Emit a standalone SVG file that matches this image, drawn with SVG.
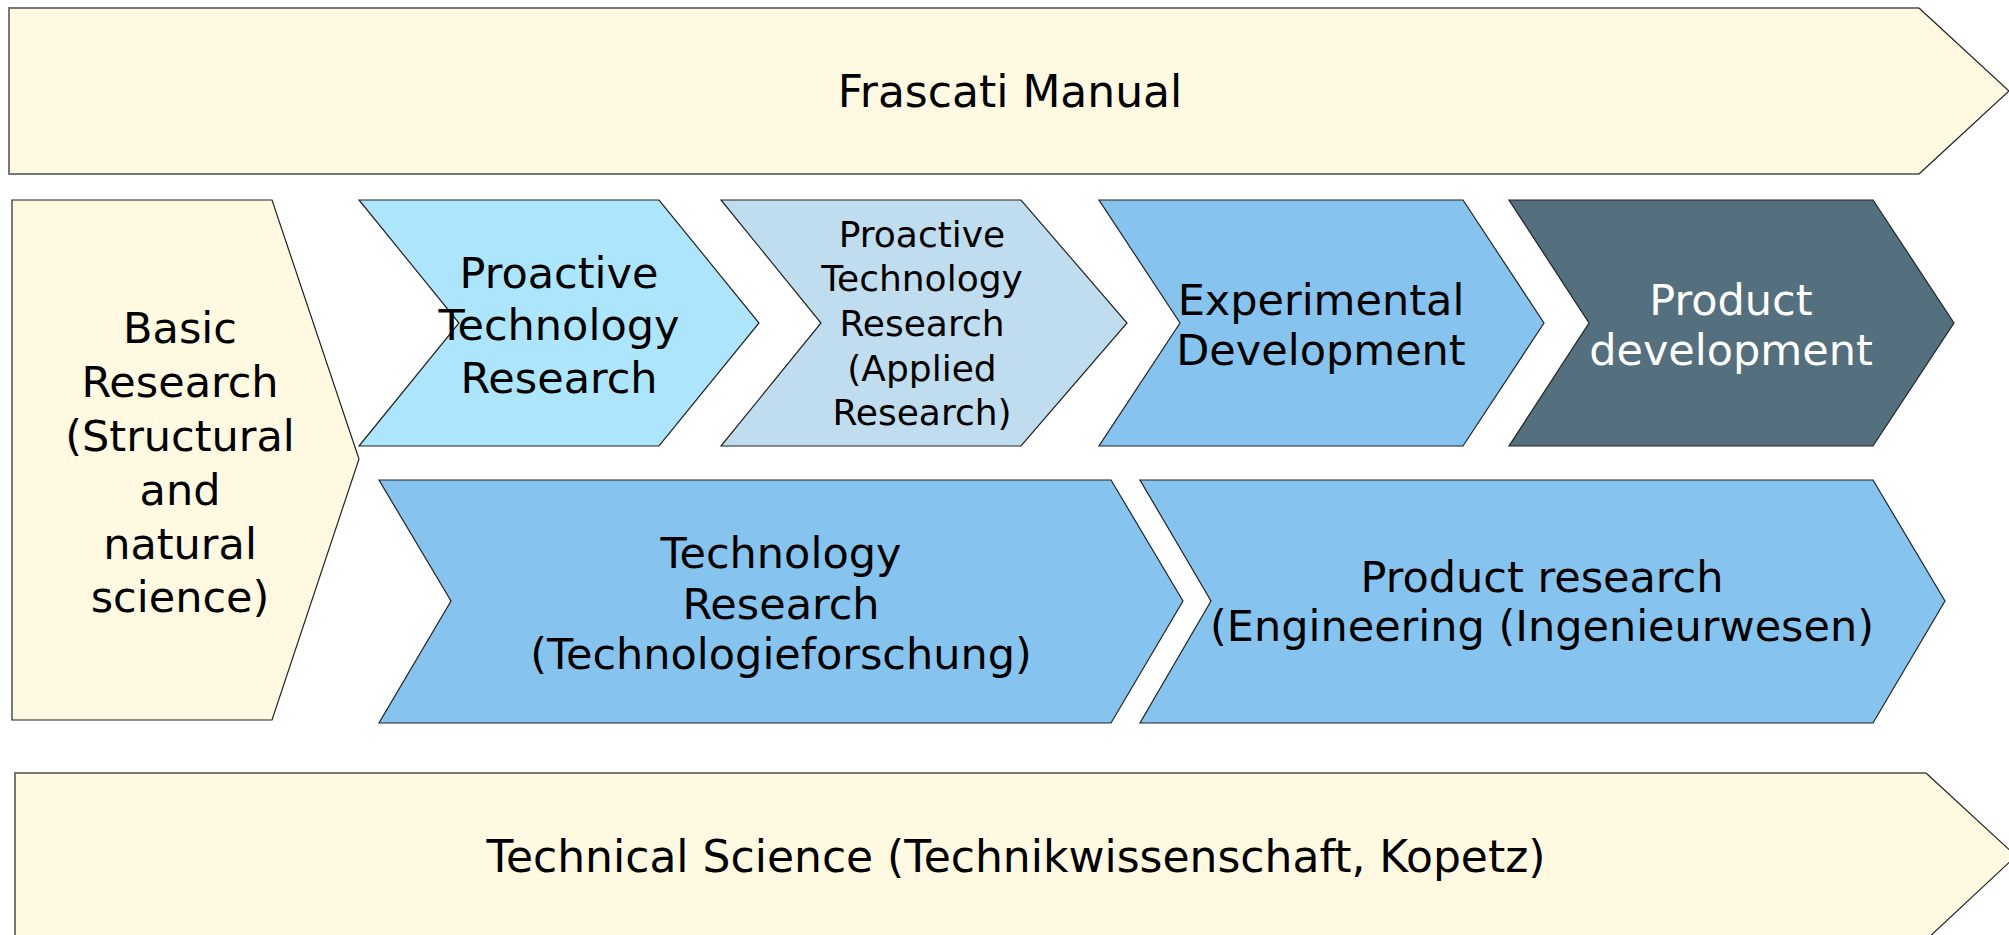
<svg xmlns="http://www.w3.org/2000/svg" width="2009" height="935" viewBox="0 0 2009 935">
<style>
.s{stroke:#222;stroke-width:1.2;stroke-linejoin:miter}
.cream{fill:#fff9e1}
.lb{fill:#ade5fc}
.pb{fill:#c0ddef}
.mb{fill:#86c4ef}
.db{fill:#546f7e}
text{font-family:"DejaVu Sans","Liberation Sans",sans-serif;font-size:43px;fill:#000;text-anchor:middle}
.w{fill:#fff}
.sm{font-size:36px}
.big{font-size:44px}
</style>
<rect width="2009" height="935" fill="#fff"/>
<g id="frascati">
<polygon class="cream" points="9,8 1919,8 2009,91 1919,174 9,174"/>
<polyline points="1919,8 9,8 9,174 1919,174" fill="none" stroke="#777" stroke-width="2"/>
<polyline points="1919,8 2009,91 1919,174" fill="none" stroke="#222" stroke-width="1.2"/>
<text class="big" x="1010" y="107">Frascati Manual</text>
</g>
<g id="basic">
<polygon class="cream s" points="12,200 272,200 359,459 272,720 12,720"/>
<text x="180" y="343">Basic</text>
<text x="180" y="397">Research</text>
<text x="180" y="451">(Structural</text>
<text x="180" y="505">and</text>
<text x="180" y="559">natural</text>
<text x="180" y="612">science)</text>
</g>
<g id="proactive">
<polygon class="lb s" points="359,200 659,200 759,323 659,446 359,446 459,323"/>
<text x="559" y="288">Proactive</text>
<text x="559" y="340">Technology</text>
<text x="559" y="393">Research</text>
</g>
<g id="applied">
<polygon class="pb s" points="721,200 1021,200 1127,323 1021,446 721,446 821,323"/>
<text class="sm" x="922" y="247">Proactive</text>
<text class="sm" x="922" y="291">Technology</text>
<text class="sm" x="922" y="336">Research</text>
<text class="sm" x="922" y="381">(Applied</text>
<text class="sm" x="922" y="425">Research)</text>
</g>
<g id="experimental">
<polygon class="mb s" points="1099,200 1463,200 1544,323 1463,446 1099,446 1180,323"/>
<text x="1321" y="315">Experimental</text>
<text x="1321" y="365">Development</text>
</g>
<g id="productdev">
<polygon class="db s" points="1509,200 1873,200 1954,323 1873,446 1509,446 1589,323"/>
<text class="w" x="1731" y="315">Product</text>
<text class="w" x="1731" y="365">development</text>
</g>
<g id="techresearch">
<polygon class="mb s" points="379,480 1111,480 1183,601 1111,723 379,723 451,601"/>
<text x="781" y="568">Technology</text>
<text x="781" y="619">Research</text>
<text x="781" y="669">(Technologieforschung)</text>
</g>
<g id="productresearch">
<polygon class="mb s" points="1140,480 1873,480 1945,601 1873,723 1140,723 1211,601"/>
<text x="1542" y="592">Product research</text>
<text x="1542" y="641">(Engineering (Ingenieurwesen)</text>
</g>
<g id="technical">
<polygon class="cream" points="15,773 1926,773 2016,856 1926,940 15,940"/>
<polyline points="1926,773 15,773 15,940" fill="none" stroke="#777" stroke-width="2"/>
<polyline points="1926,773 2016,856 1926,940" fill="none" stroke="#222" stroke-width="1.2"/>
<text class="big" x="1016" y="872">Technical Science (Technikwissenschaft, Kopetz)</text>
</g>
<g id="connectors"></g>
</svg>
